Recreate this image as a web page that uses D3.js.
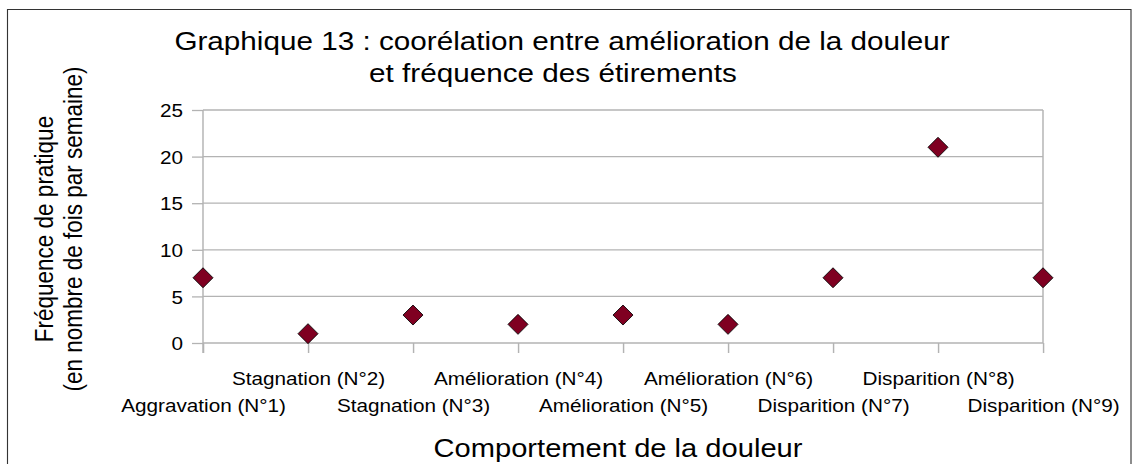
<!DOCTYPE html>
<html>
<head>
<meta charset="utf-8">
<script src="https://cdn.jsdelivr.net/npm/d3@7"></script>
<style>
  html, body { margin: 0; padding: 0; background: #fff; }
  svg { display: block; }
  text { font-family: "Liberation Sans", Arial, sans-serif; fill: #000; }
</style>
</head>
<body>
<svg id="chart"></svg>
<script>
// chart data
const categories = [
  "Aggravation (N°1)", "Stagnation (N°2)", "Stagnation (N°3)",
  "Amélioration (N°4)", "Amélioration (N°5)", "Amélioration (N°6)",
  "Disparition (N°7)", "Disparition (N°8)", "Disparition (N°9)"
];
const frequency = [7, 1, 3, 2, 3, 2, 7, 21, 7];
const yTicks = [0, 5, 10, 15, 20, 25];
const titleLines = [
  "Graphique 13 : coorélation entre amélioration de la douleur",
  "et fréquence des étirements"
];
const yTitleLines = ["Fréquence de pratique", "(en nombre de fois par semaine)"];
const xTitle = "Comportement de la douleur";

// the original picture is stretched sideways, so draw in a narrower box and stretch it
const SX = 1.12;
const W = 1132, H = 464;
const VW = W / SX;
const px = (v) => v / SX;

function main() {
  const svg = d3.select("#chart")
    .attr("width", W)
    .attr("height", H)
    .attr("viewBox", `0 0 ${VW} ${H}`)
    .attr("preserveAspectRatio", "none");

  // outer frame
  svg.append("rect")
    .attr("x", px(7.5)).attr("y", 9.5)
    .attr("width", px(1131) - px(7.5)).attr("height", 470)
    .attr("fill", "none").attr("stroke", "#333").attr("stroke-width", 1);

  const x = d3.scalePoint().domain(categories).range([px(203), px(1043)]);
  const y = d3.scaleLinear().domain([0, 25]).range([343, 110]);

  // gridlines
  svg.append("g")
    .selectAll("line")
    .data(yTicks)
    .join("line")
    .attr("x1", px(203)).attr("x2", px(1043))
    .attr("y1", (d) => y(d)).attr("y2", (d) => y(d))
    .attr("stroke", "#b3b3b3").attr("stroke-width", 1.3);

  // right border of the plot
  svg.append("line")
    .attr("x1", px(1043)).attr("x2", px(1043))
    .attr("y1", y(25)).attr("y2", y(0))
    .attr("stroke", "#b3b3b3").attr("stroke-width", 1.3);

  // y axis
  const gy = svg.append("g")
    .attr("transform", `translate(${px(203)},0)`)
    .call(d3.axisLeft(y).tickValues(yTicks).tickSize(px(11)).tickPadding(px(9)));
  gy.select(".domain").remove();
  gy.selectAll(".tick line").attr("stroke", "#b3b3b3").attr("stroke-width", 1.3);
  gy.selectAll(".tick text").attr("font-size", 18.5).attr("dy", "0.36em");
  gy.append("line")
    .attr("x1", 0).attr("x2", 0).attr("y1", y(25)).attr("y2", y(0) + 10)
    .attr("stroke", "#b3b3b3").attr("stroke-width", 1.3);

  // x axis with labels on two alternating rows
  const gx = svg.append("g")
    .attr("transform", `translate(0,${y(0)})`)
    .call(d3.axisBottom(x).tickSize(10));
  gx.select(".domain").remove();
  gx.selectAll(".tick line").attr("stroke", "#b3b3b3").attr("stroke-width", 1.3);
  gx.selectAll(".tick text")
    .attr("font-size", 18.5)
    .attr("dy", 0)
    .attr("y", (d, i) => (i % 2 === 0 ? 69 : 42));
  svg.selectAll(".tick text").attr("fill", "#000").style("font-family", '"Liberation Sans", Arial, sans-serif');

  // points (diamonds)
  const dw = px(10), dh = 10;
  svg.append("g")
    .selectAll("path")
    .data(frequency)
    .join("path")
    .attr("d", (d, i) => {
      const cx = x(categories[i]), cy = y(d);
      return `M${cx},${cy - dh}L${cx + dw},${cy}L${cx},${cy + dh}L${cx - dw},${cy}Z`;
    })
    .attr("fill", "#7f0021")
    .attr("stroke", "#000")
    .attr("stroke-width", 0.8);

  // title
  svg.append("text")
    .attr("x", px(558)).attr("y", 50)
    .attr("text-anchor", "middle")
    .attr("font-size", 26.5)
    .selectAll("tspan")
    .data(titleLines)
    .join("tspan")
    .attr("x", (d, i) => px(i === 0 ? 562 : 553))
    .attr("dy", (d, i) => (i === 0 ? 0 : 32))
    .text((d) => d);

  // y axis title
  svg.append("g")
    .selectAll("text")
    .data(yTitleLines)
    .join("text")
    .attr("transform", (d, i) => `translate(${px(i === 0 ? 53 : 82)},229) rotate(-90)`)
    .attr("text-anchor", "middle")
    .attr("font-size", 22.5)
    .text((d) => d);

  // x axis title
  svg.append("text")
    .attr("x", px(618)).attr("y", 457)
    .attr("text-anchor", "middle")
    .attr("font-size", 26)
    .text(xTitle);
}

main();
</script>
</body>
</html>
